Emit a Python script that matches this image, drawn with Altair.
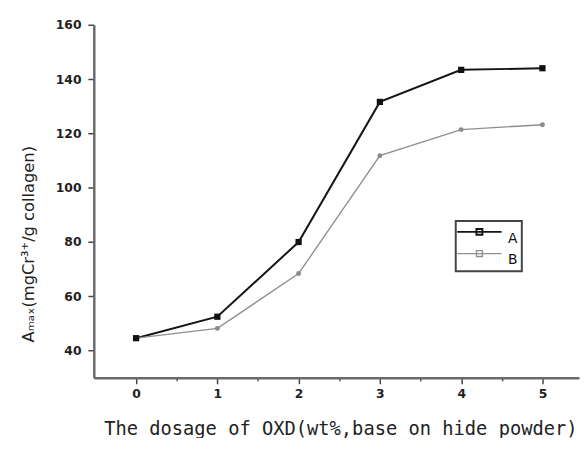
import altair as alt
import pandas as pd

# ---- data ----
dosage = [0, 1, 2, 3, 4, 5]
series_a = [44.6, 52.5, 80.0, 131.6, 143.4, 144.0]
series_b = [44.6, 48.2, 68.4, 111.8, 121.4, 123.2]
series_names = ["A", "B"]
x_ticks = [0, 0.5, 1, 1.5, 2, 2.5, 3, 3.5, 4, 4.5, 5]
y_ticks = [40, 50, 60, 70, 80, 90, 100, 110, 120, 130, 140, 150, 160]

df = pd.DataFrame({
    "dosage": dosage * 2,
    "value": series_a + series_b,
    "series": [series_names[0]] * len(dosage) + [series_names[1]] * len(dosage),
})

x_title = "The dosage of OXD(wt%,base on hide powder)"
y_title = "A\u2098\u2090\u2093(mgCr\u00b3\u207a/g collagen)"

x_scale = alt.Scale(domain=[-0.52, 5.45], nice=False, zero=False)
y_scale = alt.Scale(domain=[30, 160], nice=False, zero=False)

axis_common = dict(
    grid=False,
    domainColor="#6a6a6a",
    domainWidth=2.5,
    tickColor="#444444",
    tickWidth=1.5,
    labelFont="DejaVu Sans",
    labelFontWeight="bold",
    labelFontSize=12.5,
    labelColor="#222222",
    titleColor="#222222",
    titleFontWeight="normal",
)

x_axis = alt.Axis(
    values=x_ticks,
    labelExpr="datum.value % 1 == 0 ? format(datum.value, 'd') : ''",
    tickSize={"condition": {"test": "datum.value % 1 == 0", "value": 6}, "value": 3},
    labelPadding=4,
    title=x_title,
    titleFont="DejaVu Sans Mono",
    titleFontSize=19,
    titlePadding=20,
    titleX=250,
    **axis_common,
)
y_axis = alt.Axis(
    values=y_ticks,
    labelExpr="datum.value % 20 == 0 ? format(datum.value, 'd') : ''",
    tickSize={"condition": {"test": "datum.value % 20 == 0", "value": 6}, "value": 3},
    labelPadding=7,
    title=y_title,
    titleFont="DejaVu Sans",
    titleFontSize=16.5,
    titlePadding=19,
    titleY=222,
    **axis_common,
)

legend_symbol = "M-4.5,0H4.5M-0.6,-0.6H0.6V0.6H-0.6Z"

base = alt.Chart(df)

lines = base.mark_line().encode(
    x=alt.X("dosage:Q", scale=x_scale, axis=x_axis),
    y=alt.Y("value:Q", scale=y_scale, axis=y_axis),
    color=alt.Color(
        "series:N",
        scale=alt.Scale(domain=series_names, range=["#151515", "#8f8f8f"]),
        legend=alt.Legend(
            title=None,
            orient="none",
            legendX=367,
            legendY=199,
            symbolType=legend_symbol,
            symbolSize=100,
            symbolOffset=13,
            symbolStrokeWidth=2,
            labelOffset=22,
            padding=4,
            rowPadding=1,
            strokeColor="#444444",
            labelFont="DejaVu Sans",
            labelFontSize=14,
            labelColor="#111111",
            labelBaseline="top",
        ),
    ),
    strokeWidth=alt.StrokeWidth(
        "series:N", scale=alt.Scale(domain=series_names, range=[2, 1.4]), legend=None
    ),
)

points_a = base.transform_filter(alt.datum.series == "A").mark_point(
    shape="square", filled=True, color="#111111", size=40, opacity=1
).encode(
    x=alt.X("dosage:Q", scale=x_scale),
    y=alt.Y("value:Q", scale=y_scale),
)

points_b = base.transform_filter(alt.datum.series == "B").mark_point(
    shape="circle", filled=True, color="#8a8a8a", size=25, opacity=1
).encode(
    x=alt.X("dosage:Q", scale=x_scale),
    y=alt.Y("value:Q", scale=y_scale),
)

chart = (
    alt.layer(lines, points_b, points_a)
    .properties(
        width=492,
        height=358,
        autosize="none",
        padding={"left": 87, "top": 14, "right": 1, "bottom": 58},
        background="white",
    )
    .configure_view(stroke=None)
    .configure_legend(strokeWidth=2)
)

chart.save("out.html", embed_options={"renderer": "svg", "actions": False})
